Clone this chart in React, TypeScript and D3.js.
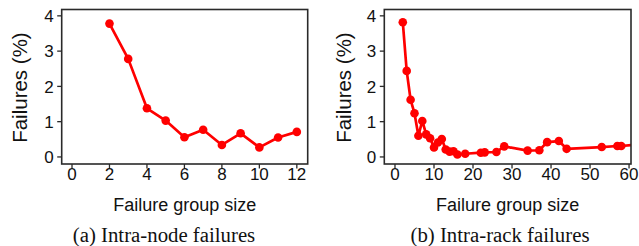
import React from "react";
import * as d3 from "d3";

// Intra-node failures (a)
const nodeSizes = [2, 3, 4, 5, 6, 7, 8, 9, 10, 11, 12];
const nodeFailures = [3.78, 2.78, 1.38, 1.03, 0.56, 0.77, 0.34, 0.67, 0.27, 0.55, 0.71];

// Intra-rack failures (b)
const rackSizes = [2, 3, 4, 5, 6, 7, 8, 9, 10, 11, 12, 13, 14, 15, 16, 18, 22, 23, 26, 28, 34, 37, 39, 42, 44, 53, 57, 58, 64];
const rackFailures = [3.82, 2.44, 1.62, 1.24, 0.6, 1.02, 0.64, 0.53, 0.27, 0.41, 0.51, 0.21, 0.15, 0.16, 0.07, 0.09, 0.12, 0.13, 0.14, 0.3, 0.18, 0.19, 0.42, 0.45, 0.23, 0.28, 0.31, 0.31, 0.37];

const nodeXTicks = [0, 2, 4, 6, 8, 10, 12];
const rackXTicks = [0, 10, 20, 30, 40, 50, 60];
const yTicks = [0, 1, 2, 3, 4];

const xTitle = "Failure group size";
const yTitle = "Failures (%)";
const captions = ["(a) Intra-node failures", "(b) Intra-rack failures"];

const SANS = "'Liberation Sans', Arial, Helvetica, sans-serif";
const SERIF = "'Liberation Serif', 'Times New Roman', serif";
const RED = "#ff0000";
const AXIS = "#2a2a2a";
const TEXT = "#111";

type PanelProps = {
  id: string;
  xs: number[];
  ys: number[];
  xTicks: number[];
  xDomain: [number, number];
  left: number;
  right: number;
  yTitleX: number;
  caption: string;
  captionX: number;
};

function Panel(p: PanelProps) {
  const top = 9.5;
  const bottom = 164;
  const x = d3.scaleLinear().domain(p.xDomain).range([p.left, p.right]);
  const y = d3.scaleLinear().domain([-0.2, 4.18]).range([bottom, top]);
  const pts = p.xs.map((v, i) => [v, p.ys[i]] as [number, number]);
  const line = d3
    .line<[number, number]>()
    .x((d) => x(d[0]))
    .y((d) => y(d[1]));
  const tickLen = 4.5;
  const midY = (top + bottom) / 2;
  return (
    <g>
      <defs>
        <clipPath id={`clip-${p.id}`}>
          <rect x={p.left} y={top} width={p.right - p.left} height={bottom - top} />
        </clipPath>
      </defs>
      <g clipPath={`url(#clip-${p.id})`}>
        <path d={line(pts) || ""} fill="none" stroke={RED} strokeWidth={2.7} strokeLinejoin="round" />
        {pts.map((d, i) => (
          <circle key={i} cx={x(d[0])} cy={y(d[1])} r={4.3} fill={RED} />
        ))}
      </g>
      <rect
        x={p.left}
        y={top}
        width={p.right - p.left}
        height={bottom - top}
        fill="none"
        stroke={AXIS}
        strokeWidth={1.6}
      />
      {yTicks.map((t) => (
        <g key={`y${t}`}>
          <line x1={p.left - tickLen} x2={p.left} y1={y(t)} y2={y(t)} stroke={AXIS} strokeWidth={1.3} />
          <text
            x={p.left - tickLen - 3.5}
            y={y(t)}
            dy="0.36em"
            textAnchor="end"
            fontFamily={SANS}
            fontSize={17}
            fill={TEXT}
          >
            {t}
          </text>
        </g>
      ))}
      {p.xTicks.map((t) => (
        <g key={`x${t}`}>
          <line x1={x(t)} x2={x(t)} y1={bottom} y2={bottom + tickLen} stroke={AXIS} strokeWidth={1.3} />
          <text x={x(t)} y={179.5} textAnchor="middle" fontFamily={SANS} fontSize={17} fill={TEXT}>
            {t}
          </text>
        </g>
      ))}
      <text
        x={(p.left + p.right) / 2}
        y={211}
        textAnchor="middle"
        fontFamily={SANS}
        fontSize={18}
        fill={TEXT}
      >
        {xTitle}
      </text>
      <text
        transform={`translate(${p.yTitleX},${midY + 0.8}) rotate(-90)`}
        textAnchor="middle"
        fontFamily={SANS}
        fontSize={20.5}
        fill={TEXT}
      >
        {yTitle}
      </text>
      <text x={p.captionX} y={242.3} textAnchor="middle" fontFamily={SERIF} fontSize={20.8} fill={TEXT}>
        {p.caption}
      </text>
    </g>
  );
}

export default function App() {
  return (
    <svg
      width={639}
      height={246}
      viewBox="0 0 639 246"
      style={{ position: "absolute", left: 0, top: 0, background: "#fff" }}
    >
      <rect width={639} height={246} fill="#fff" />
      <Panel
        id="a"
        xs={nodeSizes}
        ys={nodeFailures}
        xTicks={nodeXTicks}
        xDomain={[-0.55, 12.58]}
        left={61.7}
        right={307.7}
        yTitleX={26.7}
        caption={captions[0]}
        captionX={164}
      />
      <Panel
        id="b"
        xs={rackSizes}
        ys={rackFailures}
        xTicks={rackXTicks}
        xDomain={[-2.74, 60.5]}
        left={384.3}
        right={631}
        yTitleX={350.7}
        caption={captions[1]}
        captionX={500}
      />
    </svg>
  );
}
